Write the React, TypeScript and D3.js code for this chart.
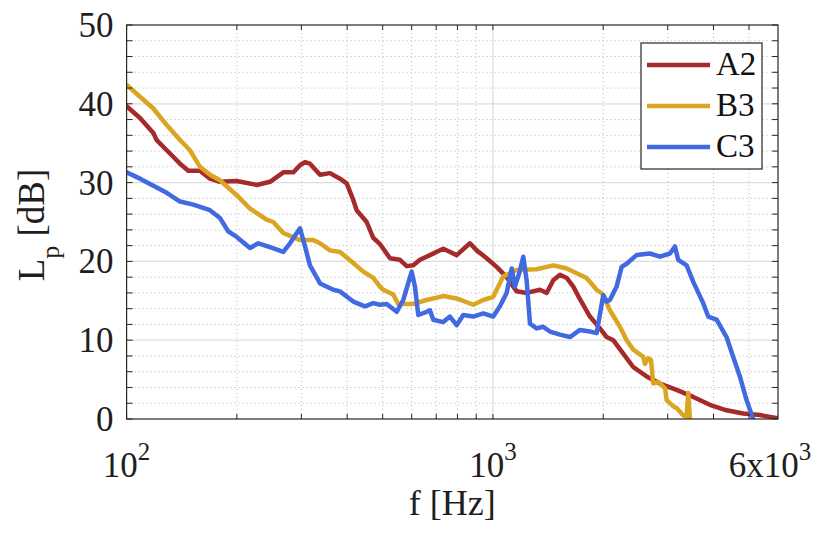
import React from "react";
import * as d3 from "d3";

const seriesNames = ["A2", "B3", "C3"];
const seriesColors = ["#A52A2A", "#DAA520", "#4169E1"];

const dataA2: [number, number][] = [
  [100, 39.7], [108.8, 38.2], [118.3, 36.3], [120.8, 35.4], [128.7, 34.1], [139.9, 32.4],
  [147.4, 31.5], [158.6, 31.5], [168.9, 30.5], [179.8, 30.1], [199.8, 30.2], [226.5, 29.7],
  [246.3, 30.1], [267.8, 31.3], [285.1, 31.3], [297.4, 32.2], [306.9, 32.6], [316.6, 32.4],
  [337.3, 31.0], [359.1, 31.2], [382.3, 30.5], [398.8, 29.9], [415.6, 27.8], [424.6, 26.5],
  [452.2, 25.0], [471.3, 23.0], [491.6, 22.2], [523.5, 20.4], [557.5, 20.2], [581.5, 19.4],
  [606.1, 19.5], [632.2, 20.2], [673, 20.8], [731.8, 21.6], [796, 20.8], [865.5, 22.3],
  [902.7, 21.4], [961.2, 20.4], [1023.5, 19.3], [1090, 18.0], [1161, 16.2], [1236, 16.0],
  [1344, 16.4], [1402, 16.0], [1461, 17.6], [1524, 18.3], [1590, 17.9], [1657, 16.8],
  [1728, 15.2], [1840, 13.0], [1959, 11.5], [2044, 10.4], [2130, 10.0], [2268, 8.3],
  [2415, 6.6], [2627, 5.4], [2856, 4.5], [3172, 3.7], [3522, 2.8], [3910, 1.8],
  [4342, 1.1], [4820, 0.7], [5354, 0.5], [6000, 0.1],
];

const dataB3: [number, number][] = [
  [100, 42.4], [108.8, 40.9], [118.3, 39.4], [128.7, 37.3], [139.9, 35.4], [148.9, 34.1],
  [158.6, 32.0], [168.9, 31.0], [179.8, 30.3], [199.8, 28.4], [217.2, 26.7], [241.2, 25.3],
  [251.4, 25.0], [267.8, 23.6], [297.4, 22.7], [323.3, 22.7], [337.3, 22.3], [359.1, 21.4],
  [382.3, 21.2], [415.6, 19.8], [442.6, 18.7], [471.3, 17.9], [491.6, 16.8], [501.9, 16.4],
  [534.5, 15.8], [551.5, 14.6], [581.5, 14.6], [606.1, 14.6], [659.3, 15.1], [731.8, 15.6],
  [796, 15.3], [883.6, 14.5], [940.9, 15.1], [1001.9, 15.5], [1067, 18.1], [1161, 18.9],
  [1316, 19.0], [1461, 19.5], [1590, 19.1], [1693, 18.5], [1802, 17.9], [1919, 16.4],
  [2000, 15.8], [2086, 13.8], [2222, 11.7], [2317, 10.0], [2415, 8.8], [2572, 7.9],
  [2600, 7.0], [2653, 7.7], [2700, 7.5], [2738, 4.5], [2830, 4.7], [2950, 3.9],
  [2980, 2.4], [3110, 1.6], [3172, 1.4], [3300, 0.5], [3379, 0.3], [3412, 3.3], [3449, 0.1],
];

const dataC3: [number, number][] = [
  [100, 31.3], [108.8, 30.5], [118.3, 29.6], [128.7, 28.7], [139.9, 27.6], [152.1, 27.2],
  [168.9, 26.5], [179.8, 25.5], [189.5, 23.8], [199.8, 23.1], [217.2, 21.7], [228.8, 22.3],
  [246.3, 21.8], [267.8, 21.2], [279.3, 22.3], [297.4, 24.2], [306.9, 21.9], [316.6, 19.5],
  [337.3, 17.2], [366.6, 16.4], [382.3, 16.2], [415.6, 14.9], [447.4, 14.3], [471.3, 14.7],
  [491.6, 14.5], [512.8, 14.6], [546.1, 13.6], [569.1, 15.1], [600, 18.7], [612.6, 16.8],
  [625.4, 13.2], [659.3, 13.6], [673, 13.8], [687.3, 12.6], [731.8, 12.3], [763.2, 13.0],
  [796, 11.9], [829.7, 13.2], [883.6, 13.0], [940.9, 13.4], [1001.9, 13.0], [1045, 14.3],
  [1090, 16.0], [1125, 19.1], [1148, 16.8], [1180, 18.5], [1210, 20.6], [1236, 17.6],
  [1262, 12.1], [1316, 11.5], [1372, 11.7], [1431, 11.1], [1524, 10.7], [1623, 10.4],
  [1728, 11.3], [1840, 11.1], [1919, 10.9], [2000, 15.7], [2044, 14.9], [2086, 15.1],
  [2176, 16.8], [2246, 19.3], [2317, 19.7], [2467, 20.8], [2682, 21.0], [2856, 20.6],
  [3042, 21.0], [3139, 21.9], [3204, 20.2], [3379, 19.5], [3522, 17.4], [3750, 14.7],
  [3869, 13.0], [4079, 12.6], [4342, 10.4], [4526, 7.9], [4721, 5.4], [4924, 2.4], [5133, 0.0],
];

const allSeries = [dataA2, dataB3, dataC3];

const yTicks = [0, 10, 20, 30, 40, 50];
const yMinorTicks = [2, 4, 6, 8, 12, 14, 16, 18, 22, 24, 26, 28, 32, 34, 36, 38, 42, 44, 46, 48];
const xMajorTicks = [100, 1000];
const xMinorTicks = [200, 300, 400, 500, 600, 700, 800, 900, 2000, 3000, 4000, 5000];
const xTickLabels: { v: number; base: string; exp: string }[] = [
  { v: 100, base: "10", exp: "2" },
  { v: 1000, base: "10", exp: "3" },
  { v: 6000, base: "6x10", exp: "3" },
];

const W = 837;
const H = 549;
const FONT = "'Liberation Serif', 'Times New Roman', serif";

export default function App() {
  const left = 126.6, right = 778, top = 25, bottom = 419;
  const x = d3.scaleLog().domain([100, 6000]).range([left, right]);
  const y = d3.scaleLinear().domain([0, 50]).range([bottom, top]);
  const line = d3
    .line<[number, number]>()
    .x((d) => x(d[0]))
    .y((d) => y(d[1]));

  const axisColor = "#262626";
  const textColor = "#1e1e1e";

  return (
    <svg
      width={W}
      height={H}
      style={{ position: "fixed", left: 0, top: 0, background: "#fff" }}
      fontFamily={FONT}
    >
      <rect x={0} y={0} width={W} height={H} fill="#fff" />
      <defs>
        <clipPath id="plotclip">
          <rect x={left} y={top} width={right - left} height={bottom - top} />
        </clipPath>
      </defs>
      {yMinorTicks.map((v) => (
        <line key={"ym" + v} x1={left} x2={right} y1={y(v)} y2={y(v)} stroke="#b8b8b8" strokeWidth={1} strokeDasharray="1,3" />
      ))}
      {xMinorTicks.map((v) => (
        <line key={"xm" + v} x1={x(v)} x2={x(v)} y1={top} y2={bottom} stroke="#b8b8b8" strokeWidth={1} strokeDasharray="1,3" />
      ))}
      {yTicks.filter((v) => v > 0 && v < 50).map((v) => (
        <line key={"yM" + v} x1={left} x2={right} y1={y(v)} y2={y(v)} stroke="#dcdcdc" strokeWidth={1.2} />
      ))}
      {xMajorTicks.filter((v) => v > 100).map((v) => (
        <line key={"xM" + v} x1={x(v)} x2={x(v)} y1={top} y2={bottom} stroke="#dcdcdc" strokeWidth={1.2} />
      ))}

      <g clipPath="url(#plotclip)">
        {allSeries.map((s, i) => (
          <path
            key={seriesNames[i]}
            d={line(s) || ""}
            fill="none"
            stroke={seriesColors[i]}
            strokeWidth={4.5}
            strokeLinejoin="round"
            strokeLinecap="round"
          />
        ))}
      </g>

      <rect x={left} y={top} width={right - left} height={bottom - top} fill="none" stroke={axisColor} strokeWidth={1.2} />
      {[...yTicks, ...yMinorTicks].map((v) => (
        <g key={"yt" + v}>
          <line x1={left} x2={left + 6} y1={y(v)} y2={y(v)} stroke={axisColor} strokeWidth={1} />
          <line x1={right} x2={right - 6} y1={y(v)} y2={y(v)} stroke={axisColor} strokeWidth={1} />
        </g>
      ))}
      {[...xMajorTicks, ...xMinorTicks].map((v) => (
        <g key={"xt" + v}>
          <line x1={x(v)} x2={x(v)} y1={bottom} y2={bottom - 5} stroke={axisColor} strokeWidth={1} />
          <line x1={x(v)} x2={x(v)} y1={top} y2={top + 5} stroke={axisColor} strokeWidth={1} />
        </g>
      ))}

      {yTicks.map((v) => (
        <text key={"yl" + v} x={left - 13} y={y(v) + 12} textAnchor="end" fontSize={35} fill={textColor}>
          {v}
        </text>
      ))}
      {xTickLabels.map((t) => (
        <text key={"xl" + t.v} x={x(t.v) - (t.v === 6000 ? 8 : 0)} y={477} textAnchor="middle" fontSize={35} fill={textColor}>
          {t.base}
          <tspan fontSize={25} dy={-17}>{t.exp}</tspan>
        </text>
      ))}

      <text x={(left + right) / 2} y={515} textAnchor="middle" fontSize={36} fill={textColor}>
        f [Hz]
      </text>
      <text transform={`translate(44,${(top + bottom) / 2 + 3}) rotate(-90)`} textAnchor="middle" fontSize={37} fill={textColor}>
        L
        <tspan fontSize={26} dy={15}>p</tspan>
        <tspan dy={-15}> [dB]</tspan>
      </text>

      <g>
        <rect x={641} y={43} width={121} height={126} fill="#fff" stroke={axisColor} strokeWidth={1.2} />
        {seriesNames.map((n, i) => (
          <g key={"lg" + n}>
            <line x1={647} x2={710} y1={65 + i * 41} y2={65 + i * 41} stroke={seriesColors[i]} strokeWidth={4.5} />
            <text x={716} y={75 + i * 41} fontSize={33} fill="#111">
              {n}
            </text>
          </g>
        ))}
      </g>
    </svg>
  );
}
